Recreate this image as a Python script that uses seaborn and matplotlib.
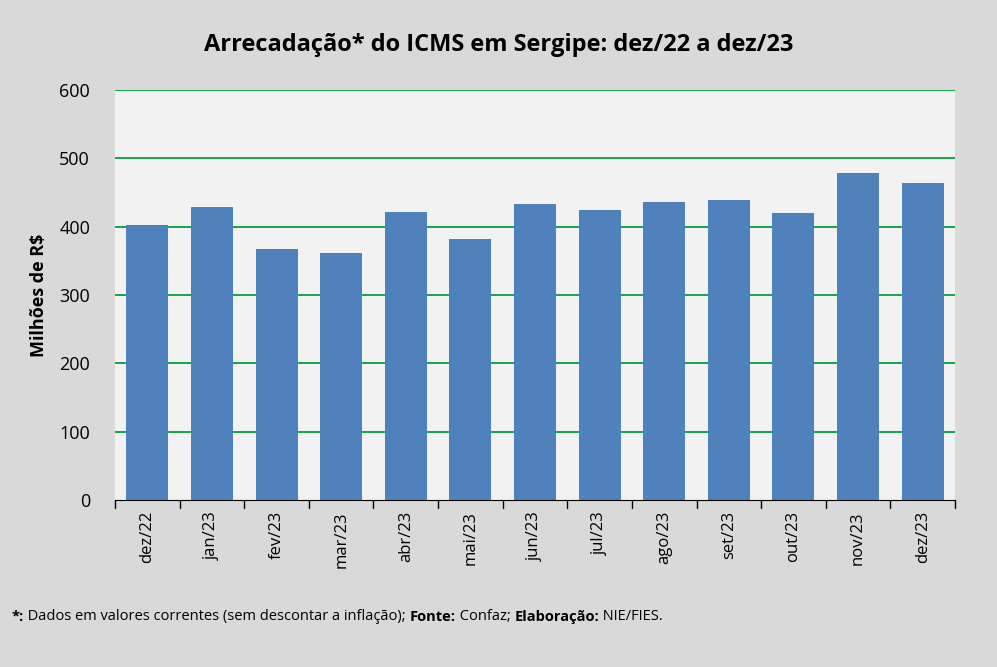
import matplotlib
matplotlib.use("Agg")
import matplotlib.pyplot as plt
import seaborn as sns
import pandas as pd

meses = ["dez/22","jan/23","fev/23","mar/23","abr/23","mai/23","jun/23","jul/23","ago/23","set/23","out/23","nov/23","dez/23"]
valores = [402, 429, 367, 361, 421, 382, 433, 424, 436, 439, 420, 478, 464]
yticks = [0, 100, 200, 300, 400, 500, 600]

sns.set_style("white")
plt.rcParams['font.family'] = ['Open Sans', 'DejaVu Sans']
plt.rcParams['text.color'] = 'black'
plt.rcParams['xtick.color'] = 'black'
plt.rcParams['ytick.color'] = 'black'
plt.rcParams['axes.labelcolor'] = 'black'

fig = plt.figure(figsize=(9.97, 6.67), dpi=100, facecolor="#d9d9d9")
ax = fig.add_axes([115/997, 1-500/667, 840/997, 410/667])
ax.set_facecolor("#f2f2f2")
df = pd.DataFrame({"mes": meses, "v": valores})
sns.barplot(data=df, x="mes", y="v", color="#4f81bd", saturation=1, width=0.65,
            linewidth=0, edgecolor="none", ax=ax, zorder=3)
ax.set_ylim(0, 600)
ax.set_xlim(-0.5, len(meses)-0.5)
ax.set_yticks(yticks)
ax.set_yticklabels([str(t) for t in yticks], fontsize=13)
for t in yticks[1:]:
    ax.axhline(t, color="#00a040", lw=1.3, zorder=1)
for s in ["top", "right", "left"]:
    ax.spines[s].set_visible(False)
ax.spines["bottom"].set_color("black")
ax.spines["bottom"].set_zorder(4)
ax.set_xticks(list(range(len(meses))))
ax.set_xticklabels(meses, rotation=90, fontsize=12)
ax.tick_params(axis="x", length=0, pad=8)
ax.tick_params(axis="y", length=0, pad=18)
for i in range(len(meses)+1):
    ax.plot([i-0.5, i-0.5], [0, -12], color="black", lw=1, clip_on=False, zorder=4)
ax.set_xlabel("")
ax.set_ylabel("Milhões de R$", fontsize=13, fontweight="bold", labelpad=8)
fig.text(0.5, 1-45/667, "Arrecadação* do ICMS em Sergipe: dez/22 a dez/23", ha="center", va="center", fontsize=17, fontweight="bold")

parts = [("*:", True), (" Dados em valores correntes (sem descontar a inflação); ", False),
         ("Fonte:", True), (" Confaz; ", False), ("Elaboração:", True), (" NIE/FIES.", False)]
fig.canvas.draw()
r = fig.canvas.get_renderer()
x = 12
for s, b in parts:
    t = fig.text(x/997, 1-617/667, s, ha="left", va="center", fontsize=10.5,
                 fontweight="bold" if b else "normal")
    x += t.get_window_extent(renderer=r).width
fig.savefig("out.png", dpi=100, facecolor=fig.get_facecolor())
